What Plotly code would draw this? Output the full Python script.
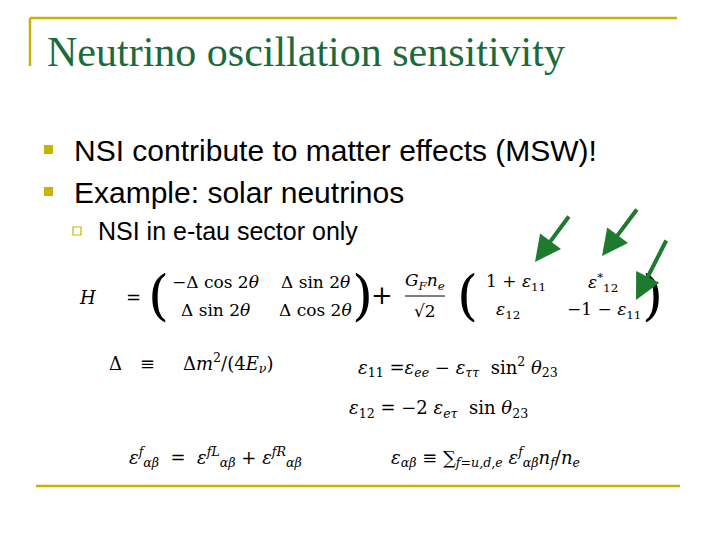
import plotly.graph_objects as go

title = "Neutrino oscillation sensitivity"
bullets = ["NSI contribute to matter effects (MSW)!", "Example: solar neutrinos"]
sub_bullets = ["NSI in e-tau sector only"]

# equation pieces: (text, x, y, size)
eq_pieces = [
    ("<i>H</i>", 87, 297, 18),
    ("=", 133, 297, 18),
    ("(", 158, 295, 54),
    ("−Δ cos 2<i>θ</i>", 215, 282, 17),
    ("Δ sin 2<i>θ</i>", 315, 282, 17),
    ("Δ sin 2<i>θ</i>", 215, 310, 17),
    ("Δ cos 2<i>θ</i>", 315, 310, 17),
    (")", 362, 295, 54),
    ("+", 382, 295, 26),
    ("<i>G<sub>F</sub>n<sub>e</sub></i>", 425, 281, 17),
    ("√2", 425, 311, 17),
    ("(", 467, 295, 54),
    ("1 + <i>ε</i><sub>11</sub>", 516, 282, 17),
    ("<i>ε</i><sup>*</sup><sub>12</sub>", 603, 282, 17),
    ("<i>ε</i><sub>12</sub>", 508, 310, 17),
    ("−1 − <i>ε</i><sub>11</sub>", 604, 310, 17),
    (")", 652, 295, 54),
    ("Δ", 115, 363, 18),
    ("≡", 147, 363, 18),
    ("Δ<i>m</i><sup>2</sup>/(4<i>E<sub>ν</sub></i>)", 228, 363, 18),
    ("<i>ε</i><sub>11</sub> =<i>ε<sub>ee</sub></i> − <i>ε<sub>ττ</sub></i>  sin<sup>2</sup> <i>θ</i><sub>23</sub>", 458, 367, 18),
    ("<i>ε</i><sub>12</sub> = −2 <i>ε<sub>eτ</sub></i>  sin <i>θ</i><sub>23</sub>", 438, 409, 18),
    ("<i>ε<sup>f</sup><sub>αβ</sub></i>  =  <i>ε<sup>fL</sup><sub>αβ</sub></i> + <i>ε<sup>fR</sup><sub>αβ</sub></i>", 215, 457, 18),
    ("<i>ε<sub>αβ</sub></i> ≡ ∑<sub><i>f</i>=<i>u,d,e</i></sub> <i>ε<sup>f</sup><sub>αβ</sub>n<sub>f</sub></i>/<i>n<sub>e</sub></i>", 485, 457, 18),
]
eq_fracline = (405, 445, 296)

# arrows: (tail_x, tail_y, head_x, head_y)
arrows = [(570, 215, 535, 262), (638, 208, 602, 256), (667, 239, 636, 300)]

gold = "#C8B400"
green = "#1B6B3A"

fig = go.Figure()
# ranges offset by the 8px page margin so the slide lands where the reference has it
fig.update_layout(
    width=720, height=540, margin=dict(l=0, r=0, t=0, b=0),
    plot_bgcolor="white", paper_bgcolor="white", showlegend=False,
    xaxis=dict(range=[8, 728], visible=False, fixedrange=True),
    yaxis=dict(range=[548, 8], visible=False, fixedrange=True),
)

# Frame lines
for x0, y0, x1, y1 in [(30, 18, 677, 18), (30, 18, 30, 66), (36, 486, 680, 486)]:
    fig.add_shape(type="line", x0=x0, y0=y0, x1=x1, y1=y1, line=dict(color=gold, width=2.5))

fig.add_annotation(x=45, y=52, text=title, showarrow=False, xanchor="left", yanchor="middle",
                   font=dict(family="Liberation Serif", size=42, color=green))

for i, b in enumerate(bullets):
    y = 150 + 42 * i
    fig.add_shape(type="rect", x0=44, y0=y - 5, x1=53, y1=y + 4, fillcolor=gold, line=dict(width=0))
    fig.add_annotation(x=72, y=y, text=b, showarrow=False, xanchor="left", yanchor="middle",
                       font=dict(family="Liberation Sans", size=30, color="black"))

for b in sub_bullets:
    fig.add_shape(type="rect", x0=73, y0=227, x1=81, y1=235, line=dict(color=gold, width=1.2))
    fig.add_annotation(x=96, y=231, text=b, showarrow=False, xanchor="left", yanchor="middle",
                       font=dict(family="Liberation Sans", size=25, color="black"))

for t, x, y, s in eq_pieces:
    fig.add_annotation(x=x, y=y, text=t, showarrow=False, xanchor="center", yanchor="middle",
                       font=dict(family="DejaVu Serif", size=s, color="black"))
fig.add_shape(type="line", x0=eq_fracline[0], x1=eq_fracline[1], y0=eq_fracline[2], y1=eq_fracline[2],
              line=dict(color="black", width=1))

for tx, ty, hx, hy in arrows:
    fig.add_annotation(x=hx, y=hy, ax=tx, ay=ty, axref="x", ayref="y", text="", showarrow=True,
                       arrowhead=2, arrowsize=1.3, arrowwidth=4, arrowcolor="#1E7A2E")

fig.write_html("out.html")
